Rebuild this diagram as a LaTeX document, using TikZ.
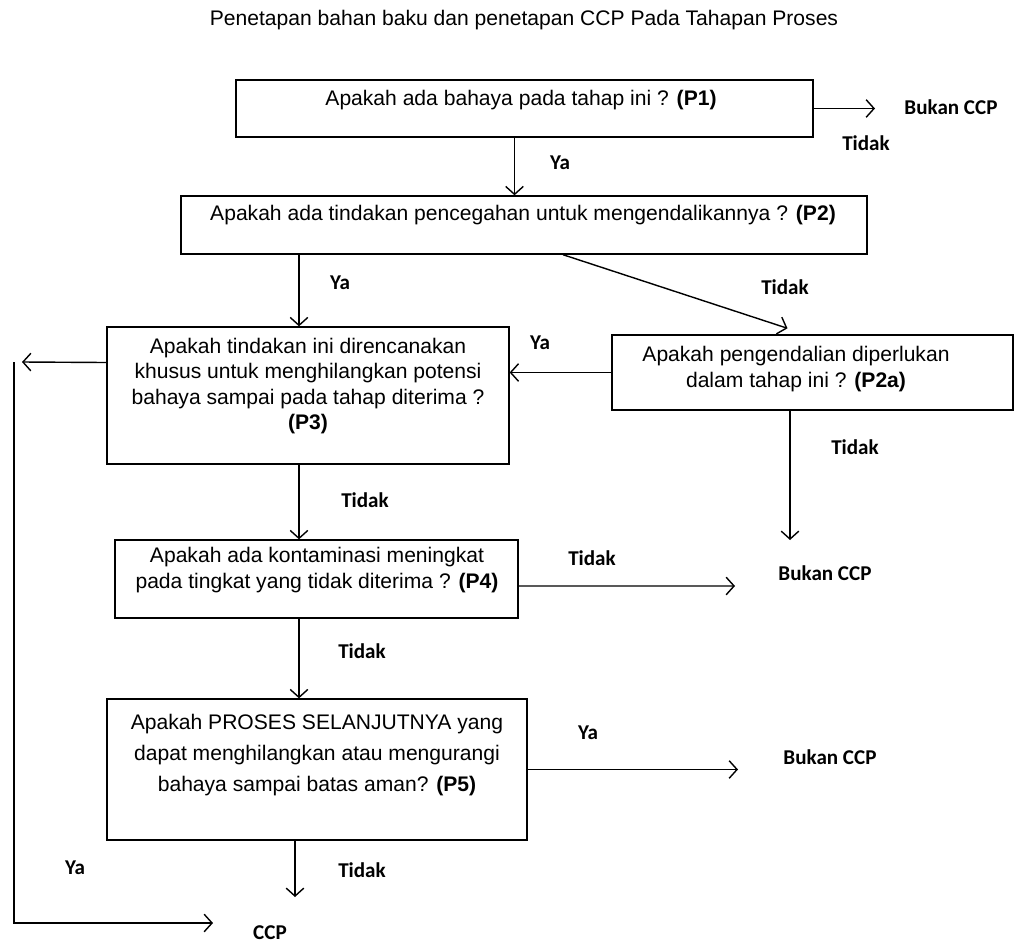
\documentclass[tikz,border=0pt]{standalone}
\usepackage{fontspec}
\setmainfont{Liberation Sans}
\newfontfamily\lblfont{Carlito}
\usetikzlibrary{arrows.meta}

\begin{document}
\begin{tikzpicture}[x=0.02cm, y=-0.02cm,
    box/.style={draw, line width=0.8pt, inner sep=0pt},
    qtext/.style={align=center, font=\fontsize{12}{14.3}\selectfont},
    lbl/.style={font=\lblfont\fontsize{12}{14}\selectfont\bfseries},
    arr/.style={line width=0.8pt, -{Straight Barb[length=4.5pt,width=10pt]}},
    ln/.style={line width=0.8pt}]
    \useasboundingbox (0,0) rectangle (1021,943);

    \node[qtext] (title) at (524,20) {Penetapan bahan baku dan penetapan CCP Pada Tahapan Proses};

    \node[box, minimum width=11.54cm, minimum height=1.14cm] (p1) at (524.5,108.5) {};
    \node[box, minimum width=13.72cm, minimum height=1.16cm] (p2) at (524,225) {};
    \node[box, minimum width=8.04cm, minimum height=2.74cm] (p3) at (308,395.5) {};
    \node[box, minimum width=8.02cm, minimum height=1.5cm] (p2a) at (812.5,372.5) {};
    \node[box, minimum width=8.06cm, minimum height=1.56cm] (p4) at (316.5,579) {};
    \node[box, minimum width=8.4cm, minimum height=2.82cm] (p5) at (317,769.5) {};

    \node[qtext] (p1t) at (521,100) {Apakah ada bahaya pada tahap ini ? \textbf{(P1)}};
    \node[qtext] (p2t) at (523,215) {Apakah ada tindakan pencegahan untuk mengendalikannya ? \textbf{(P2)}};
    \node[qtext] (p3t) at (308,386) {Apakah tindakan ini direncanakan\\khusus untuk menghilangkan potensi\\bahaya sampai pada tahap diterima ?\\\textbf{(P3)}};
    \node[qtext] (p2at) at (796,369) {Apakah pengendalian diperlukan\\dalam tahap ini ? \textbf{(P2a)}};
    \node[qtext] (p4t) at (317,570) {Apakah ada kontaminasi meningkat\\pada tingkat yang tidak diterima ? \textbf{(P4)}};
    \node[qtext, font=\fontsize{12}{17.5}\selectfont] (p5t) at (317,755) {Apakah PROSES SELANJUTNYA yang\\dapat menghilangkan atau mengurangi\\bahaya sampai batas aman? \textbf{(P5)}};

    \node[lbl] (bukan1) at (951,107) {Bukan CCP};
    \node[lbl] (bukan2) at (825,573) {Bukan CCP};
    \node[lbl] (bukan3) at (830,757) {Bukan CCP};
    \node[lbl] (ccp) at (270,933) {CCP};

    \node[lbl] (tidak1) at (866,143) {Tidak};
    \node[lbl] (ya1) at (560,163) {Ya};
    \node[lbl] (ya2) at (340,283) {Ya};
    \node[lbl] (tidak2) at (785,287) {Tidak};
    \node[lbl] (ya3) at (540,343) {Ya};
    \node[lbl] (tidak3) at (855,447) {Tidak};
    \node[lbl] (tidak4) at (365,500) {Tidak};
    \node[lbl] (tidak5) at (592,558) {Tidak};
    \node[lbl] (tidak6) at (362,651) {Tidak};
    \node[lbl] (ya4) at (588,733) {Ya};
    \node[lbl] (tidak7) at (362,870) {Tidak};
    \node[lbl] (ya5) at (75,868) {Ya};

    \coordinate (endP1) at (875,108.5);
    \coordinate (endP3) at (22,362);
    \coordinate (endP2a) at (790,540);
    \coordinate (endP4) at (735,586);
    \coordinate (endP5) at (738,769.5);
    \coordinate (endDown) at (295,897);
    \coordinate (leftTop) at (14,362);
    \coordinate (leftBot) at (14,923);
    \coordinate (endCCP) at (213,923);

    \draw[arr] (p1.east) -- (endP1);
    \draw[arr] ([xshift=-0.2cm]p1.south) -- ([xshift=-0.2cm]p1.south |- p2.north);
    \draw[arr] ([xshift=-0.18cm]p3.north |- p2.south) -- ([xshift=-0.18cm]p3.north);
    \draw[arr] ([xshift=0.78cm]p2.south) -- ([xshift=-0.5cm,yshift=0.12cm]p2a.north);
    \draw[arr] (p2a.west) -- (p2a.west -| p3.east);
    \draw[arr] ([yshift=0.66cm]p3.west) -- (endP3);
    \draw[arr] (p2a.south -| endP2a) -- (endP2a);
    \draw[arr] ([xshift=-0.18cm]p3.south) -- ([xshift=-0.18cm]p3.south |- p4.north);
    \draw[arr] ([yshift=-0.14cm]p4.east) -- (endP4);
    \draw[arr] ([xshift=-0.35cm]p4.south) -- ([xshift=-0.35cm]p4.south |- p5.north);
    \draw[arr] (p5.east) -- (endP5);
    \draw[arr] (p5.south -| endDown) -- (endDown);
    \draw[arr] (leftTop) -- (leftBot) -- (endCCP);
\end{tikzpicture}
\end{document}
